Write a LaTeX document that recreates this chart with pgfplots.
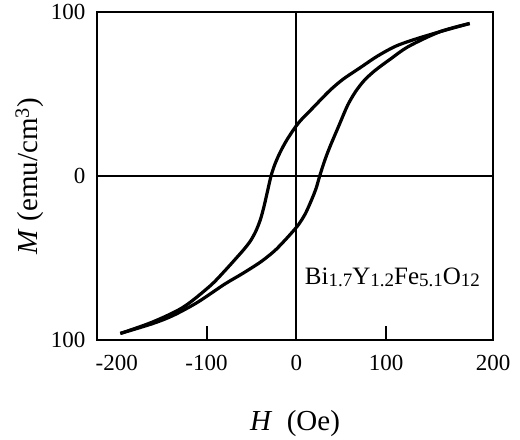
\documentclass[border=0pt]{standalone}
\usepackage{pgfplots}
\pgfplotsset{compat=1.18}
\usepackage{fontspec}
\setmainfont{Liberation Serif}
\begin{document}
\begin{tikzpicture}
\begin{axis}[
  scale only axis,
  width=396pt, height=328pt,
  xmin=-222, xmax=219, ymin=-100, ymax=100,
  axis line style={line width=2.2pt},
  xtick={-100,0,100},
  xticklabels={-100,0,100},
  extra x ticks={-200,219},
  extra x tick labels={-200,200},
  extra x tick style={major tick length=0pt},
  xtick pos=bottom, tick align=inside,
  major tick length=14pt,
  tick style={line width=2pt, black},
  ytick={-100,0,100},
  yticklabels={100,0,100},
  ytick style={draw=none},
  ytick pos=left,
  /pgf/number format/assume math mode=true,
  tick label style={font=\fontsize{23}{26}\selectfont},
  xticklabel style={yshift=-12pt},
  yticklabel style={xshift=-8pt},
  xlabel={\textit{H}\ \ (Oe)},
  ylabel={\textit{M} (emu/cm\textsuperscript{3})},
  label style={font=\fontsize{29}{32}\selectfont},
  xlabel style={yshift=-32pt},
  ylabel style={yshift=0pt},
  clip=false,
]
\addplot[black, line width=2.2pt] coordinates {(-222,0) (219,0)};
\addplot[black, line width=2.2pt] coordinates {(0,-100) (0,100)};
% upper branch (decreasing H)
\addplot[black, line width=3.2pt, smooth] coordinates {
(193,93) (160,88) (130,83) (110,79) (90,73) (71,66) (52,59) (37,52)
(18.5,41.6) (2.6,32.5) (-10,22.5) (-18,14.5) (-24,7) (-28.2,0)
(-32,-9) (-36,-18.5) (-40,-26.5) (-45,-33.5) (-51,-39.5) (-58,-44.5)
(-66,-49.5) (-80,-58) (-96,-67) (-126,-80) (-160,-89) (-196,-96)};
% lower branch (increasing H)
\addplot[black, line width=3.2pt, smooth] coordinates {
(-196,-96) (-160,-90) (-137,-85) (-110,-77) (-80,-66) (-60,-59.5)
(-40,-52.5) (-25,-46) (-15,-40.5) (-5,-34.5) (2.6,-29.5) (10,-23)
(17,-14.5) (22,-7.5) (26,0) (31,8.5) (37,17.3) (48,31.5) (57,43)
(66,51.5) (76,58.5) (88,64.5) (104,71) (125,79) (160,88) (193,93)};
\node[font=\fontsize{25}{28}\selectfont] at (axis cs:107,-62)
  {Bi\raisebox{-0.15ex}{\fontsize{19}{20}\selectfont 1.7}Y\raisebox{-0.15ex}{\fontsize{19}{20}\selectfont 1.2}Fe\raisebox{-0.15ex}{\fontsize{19}{20}\selectfont 5.1}O\raisebox{-0.15ex}{\fontsize{19}{20}\selectfont 12}};
\end{axis}
\path (current axis.south west) ++(-97pt,-94pt) rectangle ++(520pt,434pt);
\end{tikzpicture}
\end{document}
